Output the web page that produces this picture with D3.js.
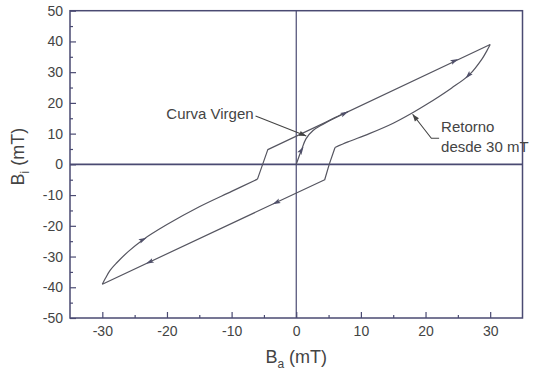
<!DOCTYPE html>
<html><head><meta charset="utf-8">
<script src="https://cdn.jsdelivr.net/npm/d3@7"></script>
<style>
body{margin:0;background:#fff;}
svg{display:block;font-family:"Liberation Sans",Arial,sans-serif;}
</style></head>
<body>
<svg id="chart" width="535" height="372"></svg>
<script>
// ---- data (mT) ----
const xDomain = [-35, 35];
const yDomain = [-50, 50];
const xTicksMajor = [-30, -20, -10, 0, 10, 20, 30];
const yTicksMajor = [-50, -40, -30, -20, -10, 0, 10, 20, 30, 40, 50];
// upper branch: from -30 mT going up
const upperCurve = [[-30,-39],[-29.5,-37],[-28.8,-34.5],[-27.8,-32.1],[-26,-28.4],[-23.7,-24.5],[-20,-19.6],[-15,-13.8],[-10,-8.8],[-6,-4.8]];
const upperStep = [[-6,-4.8],[-5.2,0],[-4.4,4.8],[30,39]];
// lower branch: return from 30 mT
const lowerCurve = [[30,39],[29.5,37],[28.8,34.5],[26.8,29.2],[24,24.8],[20,19.3],[18,16.8],[15,13.4],[11.3,10],[8,7.3],[6,5.5]];
const lowerStep = [[6,5.5],[5.1,0],[4.4,-5],[-30,-39]];
// virgin curve
const virgin = [[0,0],[0.4,2.4],[0.8,4.6],[1.5,8.3],[2.6,11],[4.1,13],[6,15.2],[8,17.1]];
// direction markers [x, y, dx, dy]
const markers = [[0.8,4.6,0.3,1],[7.5,16.6,1,1],[24.5,33.7,1,1],[26.6,28.9,-0.45,-1],[-3.1,-12.4,-1,-1],[-22.7,-31.8,-1,-1],[-23.7,-24.5,1,1.05]];
// annotations
const labelVirgen = {text:"Curva Virgen", x:-20.1, y:16.1};
const pointerVirgen = [[-6.3,15.7],[-5.4,15.0],[1.55,9.25]];
const labelRetorno = [{text:"Retorno", x:22.4, y:11.75},{text:"desde 30 mT", x:22.4, y:5.25}];
const pointerRetorno = [[22.1,8.5],[20.9,8.5],[18.0,16.3]];

// ---- chart ----
const svg = d3.select("#chart");
const L = 70, R = 522.5, T = 10.7, B = 318;
const x = d3.scaleLinear().domain(xDomain).range([L, R]);
const y = d3.scaleLinear().domain(yDomain).range([B, T]);
const axisCol = "#4a4a72", lineCol = "#555560", textCol = "#444";

// zero lines
svg.append("line").attr("x1", x(0)).attr("x2", x(0)).attr("y1", T).attr("y2", B)
  .attr("stroke", axisCol).attr("stroke-width", 1.2);
svg.append("line").attr("x1", L).attr("x2", R).attr("y1", y(0)).attr("y2", y(0))
  .attr("stroke", axisCol).attr("stroke-width", 1.6);

// axes with inward ticks
const fmt = d => String(d);
const xMinor = d3.range(-35, 36, 5).filter(v => !xTicksMajor.includes(v) && v > -35 && v < 35);
const yMinor = d3.range(-45, 50, 10);
const gx = svg.append("g").attr("transform", `translate(0,${B})`);
gx.call(d3.axisBottom(x).tickValues(xTicksMajor).tickSize(-6).tickPadding(8).tickFormat(fmt));
gx.append("g").call(d3.axisBottom(x).tickValues(xMinor).tickSize(-3).tickFormat(""));
const gy = svg.append("g").attr("transform", `translate(${L},0)`);
gy.call(d3.axisLeft(y).tickValues(yTicksMajor).tickSize(-6).tickPadding(7).tickFormat(fmt));
gy.append("g").call(d3.axisLeft(y).tickValues(yMinor).tickSize(-3).tickFormat(""));
svg.selectAll(".domain").remove();
svg.selectAll(".tick line").attr("stroke", axisCol).attr("stroke-width", 1.2);
svg.selectAll(".tick text").attr("fill", textCol).attr("font-size", "14px")
  .attr("font-family", "Liberation Sans, Arial, sans-serif");

// frame
svg.append("rect").attr("x", L).attr("y", T).attr("width", R - L).attr("height", B - T)
  .attr("fill", "none").attr("stroke", axisCol).attr("stroke-width", 1.5);

// curves
const smooth = d3.line().x(d => x(d[0])).y(d => y(d[1])).curve(d3.curveCatmullRom.alpha(0.5));
const straight = d3.line().x(d => x(d[0])).y(d => y(d[1]));
const g = svg.append("g").attr("fill", "none").attr("stroke", lineCol).attr("stroke-width", 1.2);
[upperCurve, lowerCurve, virgin].forEach(d => g.append("path").attr("d", smooth(d)));
[upperStep, lowerStep].forEach(d => g.append("path").attr("d", straight(d)).attr("stroke-linejoin", "round"));

// direction markers
markers.forEach(([mx, my, dx, dy]) => {
  const px = x(mx), py = y(my);
  const ang = Math.atan2(y(my + dy) - py, x(mx + dx) - px) * 180 / Math.PI;
  svg.append("path").attr("d", "M4,0 L-4,-2.4 L-2.5,0 L-4,2.4 Z")
    .attr("transform", `translate(${px},${py}) rotate(${ang})`)
    .attr("fill", "#50506a");
});

// annotations
function pointer(pts) {
  svg.append("path").attr("d", straight(pts)).attr("fill", "none")
    .attr("stroke", "#444", ).attr("stroke-width", 1.1);
  const a = pts[pts.length - 2], b = pts[pts.length - 1];
  const px = x(b[0]), py = y(b[1]);
  const ang = Math.atan2(py - y(a[1]), px - x(a[0])) * 180 / Math.PI;
  svg.append("path").attr("d", "M0,0 L-7,-2.6 L-7,2.6 Z")
    .attr("transform", `translate(${px},${py}) rotate(${ang})`).attr("fill", "#444");
}
pointer(pointerVirgen);
pointer(pointerRetorno);
svg.append("text").attr("x", x(labelVirgen.x)).attr("y", y(labelVirgen.y))
  .attr("dominant-baseline", "middle").attr("font-size", "15px").attr("fill", textCol)
  .text(labelVirgen.text);
labelRetorno.forEach(l => svg.append("text").attr("x", x(l.x)).attr("y", y(l.y))
  .attr("dominant-baseline", "middle").attr("font-size", "15px").attr("fill", textCol).text(l.text));

// axis titles
const xt = svg.append("text").attr("x", x(0)).attr("y", 363).attr("text-anchor", "middle")
  .attr("font-size", "18px").attr("fill", textCol);
xt.append("tspan").text("B");
xt.append("tspan").attr("font-size", "12px").attr("dy", 5).text("a");
xt.append("tspan").attr("dy", -5).text(" (mT)");
const yt = svg.append("text").attr("transform", `translate(24,${y(2.5)}) rotate(-90)`)
  .attr("text-anchor", "middle").attr("font-size", "18px").attr("fill", textCol);
yt.append("tspan").text("B");
yt.append("tspan").attr("font-size", "12px").attr("dy", 5).text("i");
yt.append("tspan").attr("dy", -5).text(" (mT)");
</script>
</body></html>
